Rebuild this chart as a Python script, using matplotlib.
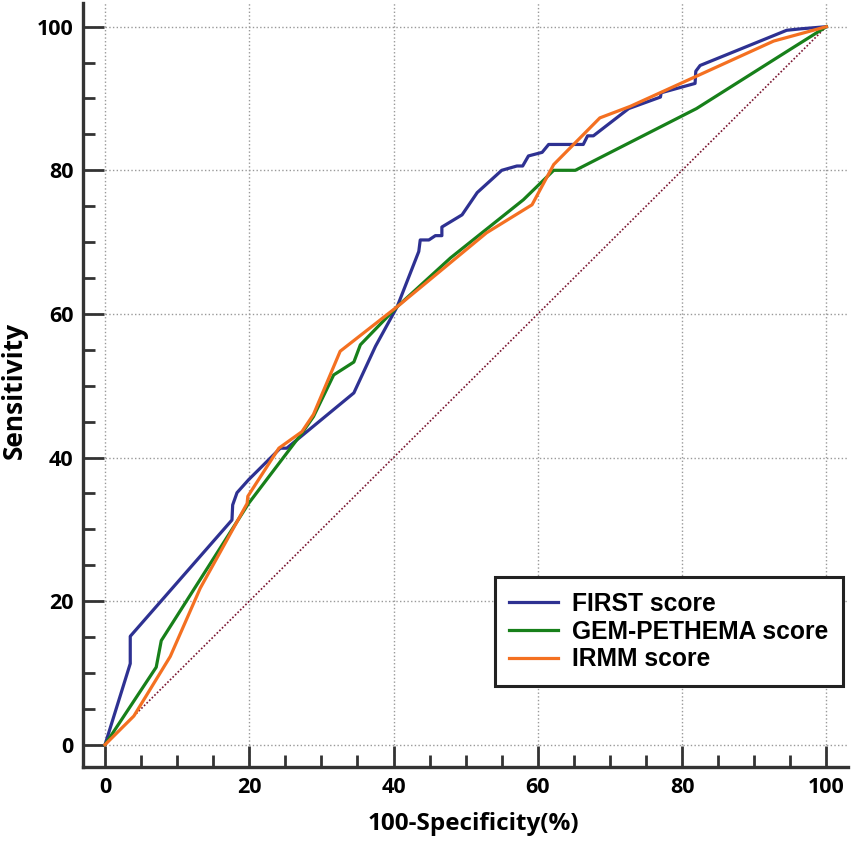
import matplotlib
matplotlib.use('Agg')
import matplotlib.pyplot as plt
from matplotlib.ticker import MultipleLocator

# --- data ---
first_x = [0, 3.5, 3.5, 17.6, 17.7, 18.3, 19.9, 24.3, 25.2, 34.5, 37.5, 40.5,
           43.5, 43.7, 44.9, 45.8, 46.7, 46.7, 49.5, 51.6, 55.0, 57.1, 57.9,
           58.7, 60.6, 61.5, 66.3, 66.9, 67.7, 72.6, 77.0, 77.1, 81.8, 81.9,
           82.5, 94.5, 96.4, 100]
first_y = [0, 11.3, 15.1, 31.3, 33.4, 35.1, 36.9, 41.3, 41.3, 49.0, 55.5, 61.0,
           68.7, 70.3, 70.3, 70.9, 70.9, 72.1, 73.8, 76.9, 80.0, 80.6, 80.6,
           82.0, 82.5, 83.6, 83.6, 84.8, 84.8, 88.6, 90.2, 90.8, 92.1, 93.8,
           94.6, 99.5, 99.7, 100]

gem_x = [0, 7.1, 7.8, 19.9, 27.3, 28.9, 31.7, 34.5, 35.4, 40.5, 47.9, 58.0,
         62.2, 65.2, 82.0, 95.4, 100]
gem_y = [0, 10.8, 14.5, 33.6, 43.4, 45.7, 51.5, 53.3, 55.7, 61.0, 67.8, 75.9,
         80.0, 80.0, 88.6, 97.1, 100]

irmm_x = [0, 4.0, 9.05, 13.2, 19.7, 19.8, 24.1, 27.3, 28.9, 32.6, 40.5, 52.9,
          59.2, 62.2, 68.6, 72.8, 92.7, 100]
irmm_y = [0, 4.0, 12.3, 21.8, 33.6, 34.6, 41.3, 43.6, 46.0, 54.8, 61.0, 71.3,
          75.2, 80.8, 87.3, 88.9, 98.0, 100]

diag = [0, 100]

labels = ['FIRST score', 'GEM-PETHEMA score', 'IRMM score']
colors = ['#2e3192', '#17801a', '#f47021']

W, H = 851, 846
fig = plt.figure(figsize=(W / 100, H / 100), dpi=100)
ax = fig.add_axes([83 / W, (H - 767) / H, (848 - 83) / W, (767 - 3) / H])

# --- curves ---
ax.plot(diag, diag, linestyle=(0, (1, 1.2)), color='#7a1530', lw=1.2, zorder=2)
ax.plot(first_x, first_y, color=colors[0], lw=2.3, label=labels[0], zorder=3)
ax.plot(gem_x, gem_y, color=colors[1], lw=2.3, label=labels[1], zorder=3)
ax.plot(irmm_x, irmm_y, color=colors[2], lw=2.3, label=labels[2], zorder=4)

# --- axes ---
ax.set_xlim(-3.05, 103.0)
ax.set_ylim(-3.1, 103.3)
ax.xaxis.set_major_locator(MultipleLocator(20))
ax.yaxis.set_major_locator(MultipleLocator(20))
ax.xaxis.set_minor_locator(MultipleLocator(5))
ax.yaxis.set_minor_locator(MultipleLocator(5))

for side in ['top', 'right']:
    ax.spines[side].set_visible(False)
for side in ['left', 'bottom']:
    ax.spines[side].set_linewidth(2.4)
    ax.spines[side].set_color('#333333')

ax.tick_params(which='major', direction='in', length=15, width=2.0,
               color='#333333', pad=7)
ax.tick_params(which='minor', direction='in', length=8.6, width=2.0,
               color='#333333')
for lab in ax.get_xticklabels() + ax.get_yticklabels():
    lab.set_fontfamily('Open Sans')
    lab.set_fontweight('bold')
    lab.set_fontsize(15.5)

ax.grid(which='major', linestyle=':', color='#999999', lw=1.0, zorder=0)
ax.set_axisbelow(True)

# axis titles placed in figure pixels
fig.text(473 / W, 1 - 824 / H, '100-Specificity(%)', family='Open Sans',
         weight='bold', fontsize=17.5, ha='center', va='center')
fig.text(14 / W, 1 - 390 / H, 'Sensitivity', family='Open Sans',
         weight='bold', fontsize=19, ha='center', va='center', rotation=90)

leg = ax.legend(loc='lower right', bbox_to_anchor=(843 / W, (H - 686) / H),
                bbox_transform=fig.transFigure, borderaxespad=0,
                prop={'family': 'Liberation Sans', 'weight': 'bold', 'size': 17.7},
                fancybox=False, framealpha=1, edgecolor='#222222',
                handlelength=2.0, handletextpad=0.55, labelspacing=0.15,
                borderpad=0.6)
leg.get_frame().set_linewidth(2.2)
leg.set_zorder(10)

fig.savefig('out.png', dpi=100)
